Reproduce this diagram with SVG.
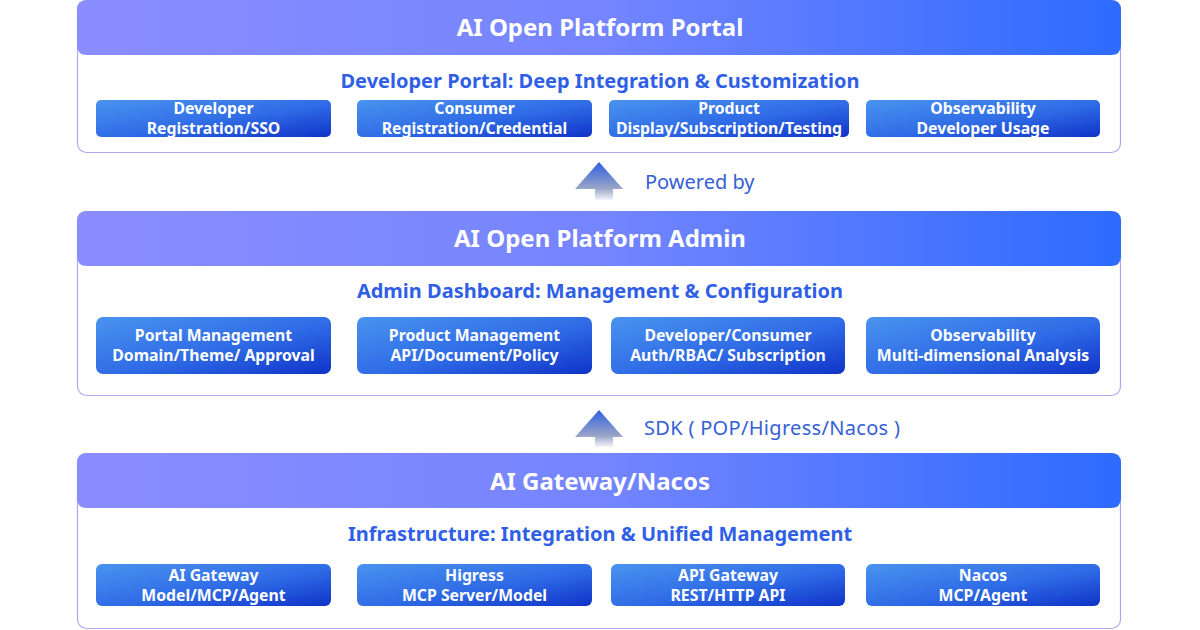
<svg xmlns="http://www.w3.org/2000/svg" width="1200" height="630" viewBox="0 0 1200 630">
<defs>
<linearGradient id="hdr" x1="0" y1="0" x2="1" y2="0">
<stop offset="0" stop-color="#8a8dff"/>
<stop offset="0.5" stop-color="#7585ff"/>
<stop offset="1" stop-color="#2d6bff"/>
</linearGradient>
<linearGradient id="box" x1="0" y1="0" x2="1" y2="1">
<stop offset="0" stop-color="#4a93ef"/>
<stop offset="0.55" stop-color="#2f6be6"/>
<stop offset="1" stop-color="#0f33c8"/>
</linearGradient>
<linearGradient id="arr" x1="0" y1="0" x2="0" y2="1">
<stop offset="0" stop-color="#2f5fe0"/>
<stop offset="0.7" stop-color="#9aa6c8"/>
<stop offset="1" stop-color="#f4f5f9"/>
</linearGradient>
<style>
.panel{fill:#fff;stroke:#aea6ee;stroke-width:1.2}
.hdr{fill:url(#hdr)}
.ttl{font-family:"Noto Sans","Open Sans",sans-serif;font-weight:700;font-size:24px;fill:#fff;text-anchor:middle}
.sub{font-family:"Noto Sans","Open Sans",sans-serif;font-weight:700;font-size:20px;fill:#2f5fe6;text-anchor:middle}
.box{fill:url(#box)}
.bt{font-family:"Noto Sans","Open Sans",sans-serif;font-weight:700;font-size:15.8px;fill:#fff;text-anchor:middle}
.lbl{font-family:"Noto Sans","Open Sans",sans-serif;font-size:20px;fill:#3560d6}
.arrow{fill:url(#arr)}
</style>
</defs>
<rect width="1200" height="630" fill="#fff"/>

<g id="portal">
<rect class="panel" x="77.5" y="0.5" width="1043" height="152" rx="9"/>
<path class="hdr" d="M77 10 Q77 0 87 0 H1111 Q1121 0 1121 10 V45 Q1121 55 1111 55 H87 Q77 55 77 45 Z"/>
<text class="ttl" x="600" y="36">AI Open Platform Portal</text>
<text class="sub" x="600" y="88">Developer Portal: Deep Integration &amp; Customization</text>
</g>
<g id="p1"><rect class="box" x="96" y="100" width="235" height="37" rx="5"/><text class="bt" x="213.5" y="114">Developer</text><text class="bt" x="213.5" y="134">Registration/SSO</text></g>
<g id="p2"><rect class="box" x="357" y="100" width="235" height="37" rx="5"/><text class="bt" x="474.5" y="114">Consumer</text><text class="bt" x="474.5" y="134">Registration/Credential</text></g>
<g id="p3"><rect class="box" x="609" y="100" width="240" height="37" rx="5"/><text class="bt" x="729" y="114">Product</text><text class="bt" x="729" y="134">Display/Subscription/Testing</text></g>
<g id="p4"><rect class="box" x="866" y="100" width="234" height="37" rx="5"/><text class="bt" x="983" y="114">Observability</text><text class="bt" x="983" y="134">Developer Usage</text></g>

<g id="admin">
<rect class="panel" x="77.5" y="211.5" width="1043" height="184" rx="9"/>
<path class="hdr" d="M77 221 Q77 211 87 211 H1111 Q1121 211 1121 221 V256 Q1121 266 1111 266 H87 Q77 266 77 256 Z"/>
<text class="ttl" x="600" y="247">AI Open Platform Admin</text>
<text class="sub" x="600" y="298">Admin Dashboard: Management &amp; Configuration</text>
</g>
<g id="a1"><rect class="box" x="96" y="317" width="235" height="57" rx="7"/><text class="bt" x="213.5" y="341">Portal Management</text><text class="bt" x="213.5" y="361">Domain/Theme/ Approval</text></g>
<g id="a2"><rect class="box" x="357" y="317" width="235" height="57" rx="7"/><text class="bt" x="474.5" y="341">Product Management</text><text class="bt" x="474.5" y="361">API/Document/Policy</text></g>
<g id="a3"><rect class="box" x="611" y="317" width="234" height="57" rx="7"/><text class="bt" x="728" y="341">Developer/Consumer</text><text class="bt" x="728" y="361">Auth/RBAC/ Subscription</text></g>
<g id="a4"><rect class="box" x="866" y="317" width="234" height="57" rx="7"/><text class="bt" x="983" y="341">Observability</text><text class="bt" x="983" y="361">Multi-dimensional Analysis</text></g>

<g id="gateway">
<rect class="panel" x="77.5" y="453.5" width="1043" height="175" rx="9"/>
<path class="hdr" d="M77 463 Q77 453 87 453 H1111 Q1121 453 1121 463 V498 Q1121 508 1111 508 H87 Q77 508 77 498 Z"/>
<text class="ttl" x="600" y="490">AI Gateway/Nacos</text>
<text class="sub" x="600" y="541">Infrastructure: Integration &amp; Unified Management</text>
</g>
<g id="g1"><rect class="box" x="96" y="564" width="235" height="42" rx="6"/><text class="bt" x="213.5" y="581">AI Gateway</text><text class="bt" x="213.5" y="601">Model/MCP/Agent</text></g>
<g id="g2"><rect class="box" x="357" y="564" width="235" height="42" rx="6"/><text class="bt" x="474.5" y="581">Higress</text><text class="bt" x="474.5" y="601">MCP Server/Model</text></g>
<g id="g3"><rect class="box" x="611" y="564" width="234" height="42" rx="6"/><text class="bt" x="728" y="581">API Gateway</text><text class="bt" x="728" y="601">REST/HTTP API</text></g>
<g id="g4"><rect class="box" x="866" y="564" width="234" height="42" rx="6"/><text class="bt" x="983" y="581">Nacos</text><text class="bt" x="983" y="601">MCP/Agent</text></g>

<g id="connectors">
<path class="arrow" d="M599 162 L623 189 L613 189 L613 200 L595 200 L595 189 L575 189 Z"/>
<text class="lbl" x="645" y="189">Powered by</text>
<path class="arrow" d="M599 410 L623 437 L613 437 L613 447 L595 447 L595 437 L575 437 Z"/>
<text class="lbl" x="644" y="435" textLength="256" lengthAdjust="spacing">SDK ( POP/Higress/Nacos )</text>
</g>
</svg>
